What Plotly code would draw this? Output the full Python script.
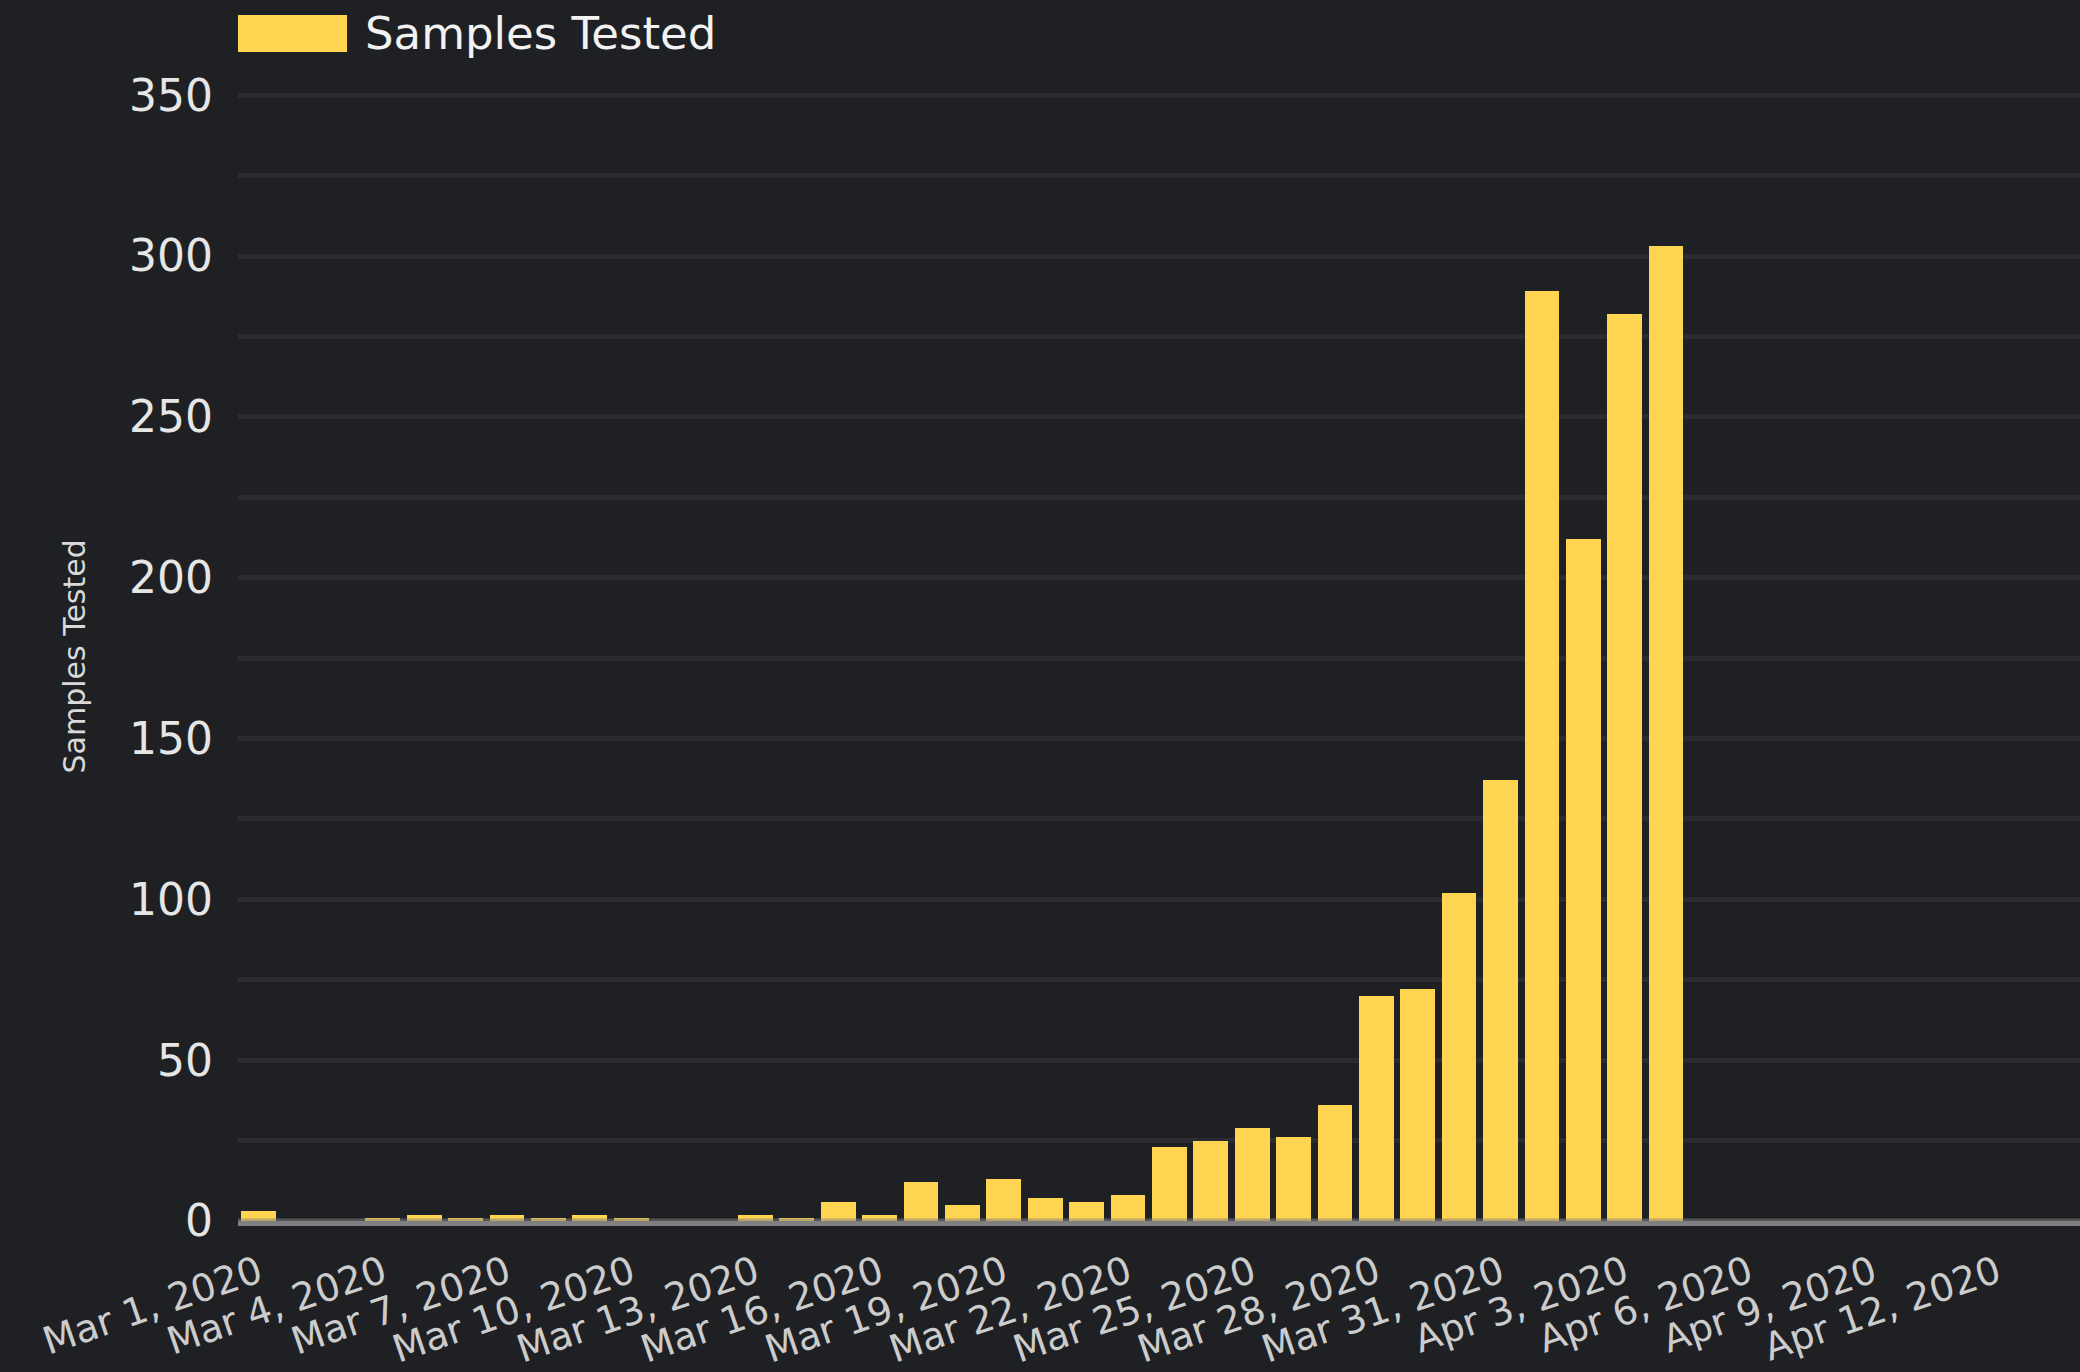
import plotly.graph_objects as go

# ---- data ----
DATES = [
    "2020-03-01", "2020-03-02", "2020-03-03", "2020-03-04", "2020-03-05",
    "2020-03-06", "2020-03-07", "2020-03-08", "2020-03-09", "2020-03-10",
    "2020-03-11", "2020-03-12", "2020-03-13", "2020-03-14", "2020-03-15",
    "2020-03-16", "2020-03-17", "2020-03-18", "2020-03-19", "2020-03-20",
    "2020-03-21", "2020-03-22", "2020-03-23", "2020-03-24", "2020-03-25",
    "2020-03-26", "2020-03-27", "2020-03-28", "2020-03-29", "2020-03-30",
    "2020-03-31", "2020-04-01", "2020-04-02", "2020-04-03", "2020-04-04",
]
SAMPLES_TESTED = [
    3, 0, 0, 1, 2,
    1, 2, 1, 2, 1,
    0, 0, 2, 1, 6,
    2, 12, 5, 13, 7,
    6, 8, 23, 25, 29,
    26, 36, 70, 72, 102,
    137, 289, 212, 282, 303,
]
TICK_DATES = [
    "2020-03-01", "2020-03-04", "2020-03-07", "2020-03-10", "2020-03-13",
    "2020-03-16", "2020-03-19", "2020-03-22", "2020-03-25", "2020-03-28",
    "2020-03-31", "2020-04-03", "2020-04-06", "2020-04-09", "2020-04-12",
]
TICK_LABELS = [
    "Mar 1, 2020", "Mar 4, 2020", "Mar 7, 2020", "Mar 10, 2020", "Mar 13, 2020",
    "Mar 16, 2020", "Mar 19, 2020", "Mar 22, 2020", "Mar 25, 2020", "Mar 28, 2020",
    "Mar 31, 2020", "Apr 3, 2020", "Apr 6, 2020", "Apr 9, 2020", "Apr 12, 2020",
]
SERIES_NAME = "Samples Tested"
Y_TITLE = "Samples Tested"

# ---- style ----
BG = "#1f2024"
GRID = "#2b2c31"
BAR = "#FED450"
FONT = "DejaVu Sans"
DAY_MS = 86400000

fig = go.Figure()
fig.add_trace(go.Bar(
    x=DATES,
    y=SAMPLES_TESTED,
    name=SERIES_NAME,
    width=0.84 * DAY_MS,
    marker=dict(color=BAR, line=dict(width=0)),
    showlegend=False,
))

fig.update_layout(
    width=2080,
    height=1372,
    autosize=False,
    paper_bgcolor=BG,
    plot_bgcolor=BG,
    margin=dict(l=238, r=0, t=92, b=151, autoexpand=False),
    bargap=0,
    xaxis=dict(
        type="date",
        automargin=False,
        range=["2020-02-29 12:00", "2020-04-14 00:00"],
        tickmode="array",
        tickvals=TICK_DATES,
        ticktext=TICK_LABELS,
        tickangle=-19,
        tickfont=dict(family=FONT, size=38, color="#cccccc"),
        ticks="",
        ticklabelstandoff=10,
        showgrid=False,
        zeroline=False,
        showline=True,
        linecolor="#7f7f7f",
        linewidth=5,
        layer="below traces",
    ),
    yaxis=dict(
        automargin=False,
        range=[0, 351],
        tick0=0,
        dtick=50,
        tickfont=dict(family=FONT, size=44, color="#e6e6e6"),
        ticks="",
        ticklabelstandoff=24,
        showgrid=True,
        gridcolor=GRID,
        gridwidth=5,
        minor=dict(tick0=0, dtick=25, showgrid=True, gridcolor=GRID, gridwidth=5),
        zeroline=False,
        showline=False,
    ),
    shapes=[
        # legend swatch
        dict(type="rect", xref="paper", yref="paper",
             x0=0.0, x1=0.0592, y0=1.0354, y1=1.0682,
             fillcolor=BAR, line=dict(width=0), layer="above"),
        # semi-transparent baseline over bars
        dict(type="line", xref="paper", yref="y", x0=0, x1=1, y0=0, y1=0,
             line=dict(color="rgba(128,128,128,0.55)", width=5), layer="above"),
    ],
    annotations=[
        dict(text=SERIES_NAME, xref="paper", yref="paper",
             x=0.0679, y=1.0514, xanchor="left", yanchor="middle",
             showarrow=False, font=dict(family=FONT, size=45, color="#f2f2f2")),
        dict(text=Y_TITLE, xref="paper", yref="paper",
             x=-0.0885, y=0.5, xanchor="center", yanchor="middle",
             textangle=-90, showarrow=False,
             font=dict(family=FONT, size=30, color="#d9d9d9")),
    ],
)

fig.write_html(
    "out.html",
    config={"displayModeBar": False},
    post_script=(
        "document.documentElement.style.margin='0';"
        "document.body.style.margin='0';"
        "document.body.style.overflow='hidden';"
        "document.body.style.background='#1f2024';"
    ),
)
